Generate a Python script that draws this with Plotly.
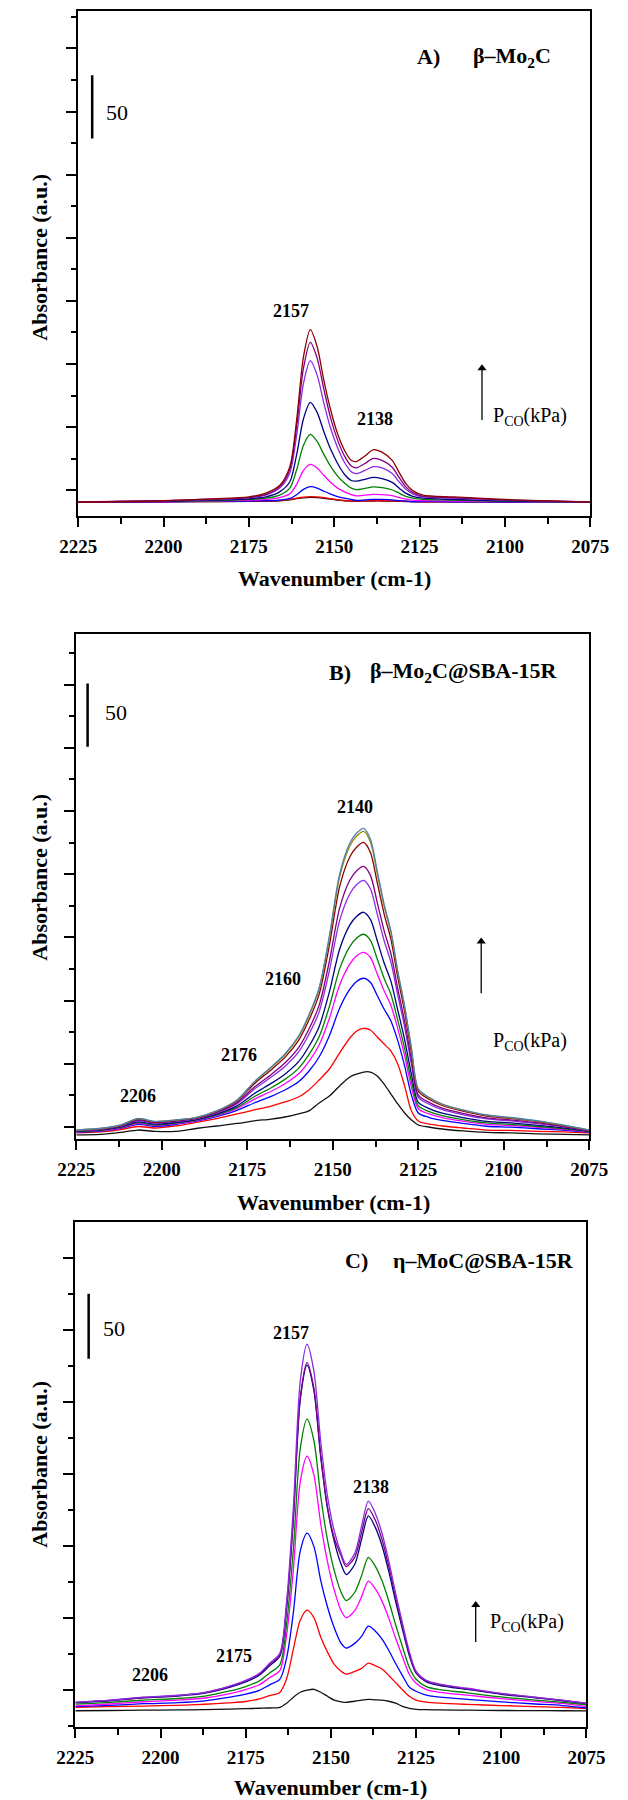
import plotly.graph_objects as go

# ---------------- Panel A : beta-Mo2C ----------------
wn_A = [2225, 2200, 2185, 2175, 2170, 2166, 2163, 2161, 2159, 2157, 2155, 2153, 2151, 2149,
        2147, 2145, 2143.5, 2141, 2138.5, 2136, 2133, 2131, 2129, 2127, 2124, 2115, 2100, 2075]
A_black = [0, 0.2, 0.3, 0.5, 0.7, 1, 1.7, 2.6, 3.3, 3.6, 3.4, 2.9, 2.2, 1.5, 1, 0.7, 0.6, 0.7, 0.8, 0.8, 0.7, 0.5, 0.4, 0.2, 0.1, 0.1, 0, 0]
A_red = [0, 0.2, 0.4, 0.6, 0.8, 1.2, 2, 3, 3.8, 4.2, 4, 3.4, 2.6, 1.8, 1.2, 0.9, 0.8, 0.9, 1, 1, 0.9, 0.7, 0.5, 0.3, 0.2, 0.1, 0, 0]
A_blue = [0, 0.2, 0.5, 0.8, 1, 1.5, 2.8, 5.8, 10, 12.1, 11, 8.5, 6.2, 4.3, 3, 2, 1.3, 1.6, 2.1, 2, 1.6, 1.1, 0.7, 0.4, 0.3, 0.2, 0, 0]
A_magenta = [0, 0.3, 0.8, 1.5, 2, 3.5, 6.5, 14, 25, 29.8, 27, 21, 15.5, 11, 8, 5.8, 4.8, 5.4, 6.1, 5.8, 5, 3.5, 2.2, 1.5, 1, 0.8, 0.3, 0]
A_green = [0, 0.5, 1, 2, 3, 5.5, 11, 25.5, 45, 53.5, 48, 37.5, 28, 20.5, 15, 11, 9.8, 10.8, 11.9, 11.3, 9.5, 7, 4.5, 3, 2, 1.5, 0.5, 0]
A_navy = [0, 0.5, 1.5, 2.5, 4, 8, 16, 37.5, 66, 79, 71, 55.5, 41.5, 30.5, 22, 17, 16.5, 18, 19.5, 18.5, 15.5, 11, 7, 4.5, 3, 2, 1, 0]
A_violet = [0, 1, 2, 3.5, 5.5, 11, 23, 53, 94, 112, 100.5, 78, 58, 43, 31.5, 24, 22.5, 25, 28, 27, 22.5, 16, 10, 6.5, 4, 3, 1.5, 0]
A_purple = [0, 1, 2.5, 3.5, 6, 12, 26, 60, 106, 126.5, 114, 89, 66, 49, 36.5, 28.5, 27, 30.5, 34.5, 33, 27.5, 19.5, 12, 7.5, 4.5, 3.5, 1.5, 0]
A_brown = [0, 1, 2.5, 4, 7, 13, 28, 65, 115, 136.5, 123, 96, 72.5, 54, 41, 33, 32, 36.5, 41.5, 39.5, 33, 23.5, 14.5, 9, 5.5, 4, 2, 0]

# ---------------- Panel B : beta-Mo2C@SBA-15R ----------------
wn_B = [2225, 2218, 2212, 2207, 2202, 2196, 2190, 2184, 2178, 2173, 2168, 2164, 2160, 2157, 2154, 2151, 2148, 2145,
        2143, 2141, 2139, 2137, 2135, 2133, 2131, 2129, 2127, 2125, 2122, 2118, 2112, 2105, 2098, 2090, 2082, 2075]
B_black = [0.8, 1.2, 2.8, 4.7, 3.6, 3.6, 5.9, 7.9, 9.9, 11.9, 13.4, 15, 17.4, 19.8, 26.1, 31.6, 39.6, 46.7, 49, 50.6, 50.6, 47.5, 41.1, 33.2, 25.3, 18.2, 12.7, 8.7, 7.1, 5.5, 4, 2.8, 2.4, 1.6, 1.2, 0.8]
B_red = [2.4, 3.2, 5.1, 7.5, 6.3, 7.9, 10.7, 13.8, 17.4, 20.6, 23.7, 26.9, 30.8, 36.4, 44.3, 53, 65.7, 77.5, 83.1, 85.2, 83.8, 78.3, 72.8, 67.2, 57, 39.6, 19.8, 11.9, 9.5, 7.9, 6.3, 4.7, 4.4, 3.6, 3.2, 2.4]
B_blue = [3.0, 3.9, 6.0, 9.1, 7.6, 9.1, 11.7, 15.3, 20.2, 26.1, 31.4, 36.4, 42.9, 51.2, 62.5, 79.3, 101.1, 116.1, 122.3, 124.8, 121.6, 111.1, 100.5, 91.0, 75.4, 55.4, 32.3, 18.2, 14.8, 12.3, 9.9, 7.7, 7.0, 5.7, 4.5, 3.0]
B_magenta = [3.3, 4.2, 6.5, 9.9, 8.3, 9.7, 12.2, 16.1, 21.6, 29.0, 35.4, 41.3, 49.2, 58.9, 72.0, 93.0, 119.5, 136.1, 142.6, 145.3, 141.2, 128.2, 114.9, 103.3, 84.9, 63.6, 38.7, 21.5, 17.6, 14.5, 11.7, 9.2, 8.3, 6.8, 5.1, 3.3]
B_green = [3.5, 4.5, 6.8, 10.5, 8.7, 10.2, 12.5, 16.6, 22.6, 31.0, 38.2, 44.8, 53.5, 64.3, 78.5, 102.4, 132.2, 150.0, 156.7, 159.6, 154.8, 140.0, 124.8, 111.9, 91.5, 69.3, 43.2, 23.8, 19.5, 16.1, 13.0, 10.3, 9.2, 7.5, 5.6, 3.5]
B_navy = [3.7, 4.8, 7.2, 11.2, 9.3, 10.7, 13.0, 17.3, 23.8, 33.4, 41.6, 48.9, 58.8, 70.8, 86.5, 114.0, 147.8, 167.0, 173.9, 177.0, 171.4, 154.5, 137.0, 122.3, 99.6, 76.3, 48.7, 26.6, 21.9, 18.0, 14.6, 11.6, 10.3, 8.4, 6.2, 3.7]
B_violet = [4.1, 5.2, 7.8, 12.2, 10.1, 11.5, 13.6, 18.2, 25.6, 37.0, 46.6, 55.0, 66.5, 80.3, 98.2, 130.8, 170.4, 191.7, 199.0, 202.3, 195.6, 175.5, 154.7, 137.5, 111.4, 86.4, 56.7, 30.6, 25.3, 20.8, 16.9, 13.5, 11.9, 9.7, 7.0, 4.1]
B_purple = [4.3, 5.4, 8.0, 12.6, 10.5, 11.8, 13.9, 18.7, 26.4, 38.5, 48.7, 57.7, 69.9, 84.4, 103.3, 138.2, 180.3, 202.5, 209.9, 213.3, 206.2, 184.7, 162.5, 144.2, 116.5, 90.8, 60.1, 32.4, 26.8, 22.0, 17.9, 14.3, 12.7, 10.3, 7.3, 4.3]
B_brown = [4.5, 5.7, 8.4, 13.4, 11.1, 12.4, 14.3, 19.4, 27.7, 41.2, 52.4, 62.2, 75.7, 91.5, 112.0, 150.8, 197.3, 221.0, 228.7, 232.3, 224.3, 200.4, 175.8, 155.6, 125.4, 98.4, 66.1, 35.4, 29.3, 24.1, 19.6, 15.8, 13.9, 11.3, 7.9, 4.5]
B_olive = [4.7, 5.9, 8.6, 13.7, 11.4, 12.6, 14.5, 19.7, 28.3, 42.4, 54.1, 64.3, 78.4, 94.8, 116.0, 156.6, 205.1, 229.5, 237.3, 241.0, 232.6, 207.6, 181.8, 160.8, 129.4, 101.9, 68.9, 36.8, 30.5, 25.0, 20.4, 16.4, 14.4, 11.8, 8.2, 4.7]
B_steel = [4.7, 5.9, 8.7, 13.8, 11.5, 12.7, 14.6, 19.8, 28.5, 42.7, 54.6, 64.9, 79.1, 95.7, 117.1, 158.2, 207.2, 231.8, 239.7, 243.4, 234.9, 209.6, 183.5, 162.2, 130.5, 102.8, 69.6, 37.2, 30.8, 25.3, 20.6, 16.6, 14.6, 11.9, 8.3, 4.7]

# ---------------- Panel C : eta-MoC@SBA-15R ----------------
wn_C = [2225, 2215, 2205, 2195, 2187, 2180, 2175, 2171, 2168, 2165, 2163, 2161, 2159, 2157, 2155, 2153, 2151, 2149, 2147,
        2145.5, 2143, 2141, 2139, 2137, 2135, 2133, 2131, 2129, 2127, 2125, 2122, 2118, 2110, 2100, 2090, 2082, 2075]
C_black = [0.4, 0.6, 0.8, 1, 1.3, 1.6, 2, 2.3, 2.5, 3, 6.2, 10.8, 14.6, 16.2, 16.9, 14.6, 11.5, 8.5, 7.3, 6.9, 7.7, 8.5, 9.2, 8.8, 8.5, 7.7, 6.2, 3.8, 2.3, 1.5, 1.2, 1, 0.8, 0.6, 0.5, 0.4, 0.3]
C_red = [3.1, 3.5, 4, 4.6, 5.4, 6.5, 7.5, 9.5, 12, 14.5, 25, 48, 70, 77.7, 72, 57.1, 45.5, 36, 30.7, 28.5, 30.7, 33, 37, 35, 32.5, 27.5, 22, 16.5, 11.5, 8.5, 7, 6.2, 5.3, 4.4, 3.6, 3, 2]
C_blue = [3.5, 4.5, 5.8, 6.6, 8, 10.6, 13.1, 16.1, 20.3, 24.5, 41, 76.4, 123.1, 136.9, 126.8, 100.7, 80.2, 64, 52.2, 48.6, 52.2, 57.6, 65.4, 61.7, 55.4, 46.7, 36.7, 27.4, 18.7, 15.4, 12.4, 10.8, 9.2, 7.2, 5.6, 4.4, 2.5]
C_magenta = [4.1, 5.6, 7.3, 8.5, 10.2, 13.4, 16.7, 20.4, 25.8, 31.2, 58.8, 109.5, 176.4, 196.1, 181.7, 144.3, 114.9, 93, 77.4, 72, 77.4, 88.1, 100, 94.3, 84.7, 71.4, 56.1, 41.9, 28.5, 21.6, 16.7, 14.6, 12.4, 9.7, 7.6, 6, 3.5]
C_green = [5.5, 6.8, 8.6, 9.8, 11.7, 15.4, 19, 23.4, 29.5, 35.7, 67.3, 125.4, 202, 224.6, 208.2, 165.3, 131.6, 108, 91.5, 85.1, 91.5, 104.3, 118.4, 111.6, 100.3, 84.6, 66.5, 49.6, 33.8, 24.6, 19, 16.6, 14.2, 11, 8.6, 6.8, 5]
C_navy = [6.6, 8.1, 10.3, 11.7, 13.9, 18.2, 22.6, 27.7, 35, 42.4, 79.8, 148.6, 239.3, 266.1, 246.6, 195.8, 155.9, 130.5, 113, 105.1, 113, 132.3, 150.2, 141.6, 127.3, 107.3, 84.4, 63, 42.9, 29.3, 22.6, 19.8, 16.8, 13.1, 10.3, 8.1, 5.9]
C_purple = [6.9, 8.4, 10.6, 12.1, 14.3, 18.8, 23.3, 28.6, 36, 43.2, 80.4, 149.7, 241.1, 268.1, 248.4, 197.2, 157, 133, 119.5, 111.3, 118.5, 137.5, 155.8, 147, 132.1, 111.4, 87.5, 65.3, 44.5, 29.8, 23.3, 20.4, 17.3, 13.5, 10.6, 8.3, 6.1]
C_violet = [6.9, 8.5, 10.8, 12.3, 14.6, 19.2, 23.8, 29.2, 36.9, 44.6, 84.6, 157.6, 253.8, 282.2, 261.5, 207.6, 165.3, 138.4, 121.5, 113, 121.5, 142.3, 161.5, 152.3, 136.9, 115.4, 90.7, 67.7, 46.1, 30.8, 23.8, 20.8, 17.7, 13.8, 10.8, 8.5, 6.2]

# tick labels of the wavenumber axis
x_ticks = [2225, 2200, 2175, 2150, 2125, 2100, 2075]
scale_bar_value = 50

SERIF = "Liberation Serif, serif"
COL = {"black": "#111111", "red": "#FF0000", "blue": "#0000FF", "magenta": "#FF00FF",
       "green": "#008000", "navy": "#000080", "violet": "#8A2BE2", "purple": "#800080",
       "brown": "#8B0000", "olive": "#9A8A00", "steel": "#4F7FAF"}

fig = go.Figure()

panels = [
    ("x", "y", wn_A, [("black", A_black), ("red", A_red), ("blue", A_blue), ("magenta", A_magenta),
                      ("green", A_green), ("navy", A_navy), ("violet", A_violet), ("purple", A_purple),
                      ("brown", A_brown)]),
    ("x2", "y2", wn_B, [("black", B_black), ("red", B_red), ("blue", B_blue), ("magenta", B_magenta),
                        ("green", B_green), ("navy", B_navy), ("violet", B_violet), ("purple", B_purple),
                        ("brown", B_brown), ("olive", B_olive), ("steel", B_steel)]),
    ("x3", "y3", wn_C, [("black", C_black), ("red", C_red), ("blue", C_blue), ("magenta", C_magenta),
                        ("green", C_green), ("navy", C_navy), ("purple", C_purple), ("violet", C_violet)]),
]
for xa, ya, wn, series in panels:
    for cname, vals in series:
        fig.add_trace(go.Scatter(x=wn, y=vals, mode="lines", xaxis=xa, yaxis=ya,
                                 line=dict(color=COL[cname], width=1.3, shape="spline", smoothing=0.8),
                                 showlegend=False, hoverinfo="skip"))

# pressure arrows (increasing P_CO): drawn as a line with a triangular head
arrows = [("x", "y", 2106.7, 65.0, 106.0),
          ("x2", "y2", 2106.6, 112.9, 153.8),
          ("x3", "y3", 2107.5, 53.3, 81.8)]
for xr, yr, xa, tail, head in arrows:
    fig.add_trace(go.Scatter(x=[xa, xa], y=[tail, head], mode="lines", xaxis=xr, yaxis=yr,
                             line=dict(color="black", width=1.3), showlegend=False, hoverinfo="skip"))
    fig.add_trace(go.Scatter(x=[xa], y=[head], mode="markers", xaxis=xr, yaxis=yr,
                             marker=dict(symbol="triangle-up", size=8, color="black"),
                             showlegend=False, hoverinfo="skip"))

W, H = 628, 1800
def fx(px):
    return px / W
def fy(py):
    return 1 - py / H

# box geometry (pixels): left, right, top, bottom
boxes = {
    "A": (63, 608, 11, 516),
    "B": (61, 607, 634, 1139),
    "C": (60, 604, 1222, 1727),
}
yinfo = {
    "A": dict(range=[-11.1, 389.0], tick0=9.3, dt=25),
    "B": dict(range=[-2.4, 397.2], tick0=7.1, dt=25),
    "C": dict(range=[-12.1, 376.2], tick0=16.2, dt=27.7),
}

layout = dict(width=W, height=H, margin=dict(l=0, r=0, t=0, b=0), autosize=False,
              paper_bgcolor="white", plot_bgcolor="white", showlegend=False)

for i, key in enumerate(["A", "B", "C"]):
    l, r, t, b = boxes[key]
    sfx = "" if i == 0 else str(i + 1)
    layout["xaxis" + sfx] = dict(
        domain=[fx(l), fx(r)], anchor="y" + sfx, range=[2225, 2075], autorange=False,
        showline=True, linecolor="black", linewidth=2, mirror=True,
        ticks="outside", ticklen=9, tickwidth=1.6, tickcolor="black",
        tickmode="array", tickvals=x_ticks, ticktext=[str(v) for v in x_ticks],
        minor=dict(ticks="outside", ticklen=6, tickwidth=1.6, tickcolor="black", tick0=2225, dtick=12.5),
        tickfont=dict(family=SERIF, size=19, color="black", weight="bold"),
        ticklabelstandoff=3,
        showgrid=False, zeroline=False, fixedrange=True)
    yi = yinfo[key]
    layout["yaxis" + sfx] = dict(
        domain=[fy(b), fy(t)], anchor="x" + sfx, range=yi["range"], autorange=False,
        showline=True, linecolor="black", linewidth=2, mirror=True,
        ticks="outside", ticklen=10, tickwidth=1.6, tickcolor="black",
        tick0=yi["tick0"], dtick=2 * yi["dt"],
        minor=dict(ticks="outside", ticklen=5, tickwidth=1.6, tickcolor="black",
                   tick0=yi["tick0"], dtick=yi["dt"]),
        showticklabels=False, showgrid=False, zeroline=False, fixedrange=True)

fig.update_layout(**layout)

ann = []
def txt(text, x, y, xr, yr, size, bold=True, xanchor="center", yanchor="middle", angle=0):
    ann.append(dict(text=text, x=x, y=y, xref=xr, yref=yr, showarrow=False,
                    xanchor=xanchor, yanchor=yanchor, textangle=angle,
                    font=dict(family=SERIF, size=size, color="black",
                              weight="bold" if bold else "normal")))

# axis titles
for key, (xc, yc_w, yc_a) in {"A": (336, 578, 257), "B": (335, 1202, 877), "C": (332, 1787, 1464)}.items():
    txt("Wavenumber (cm-1)", fx(xc), fy(yc_w), "paper", "paper", 22)
    txt("Absorbance (a.u.)", fx(21), fy(yc_a), "paper", "paper", 22, angle=-90)

# panel A texts
txt("A)", 2122.5, 352.9, "x", "y", 22)
txt("β–Mo<sub>2</sub>C", 2097.8, 352.9, "x", "y", 22)
txt("2157", 2162.7, 151.6, "x", "y", 18)
txt("2138", 2138.0, 65.5, "x", "y", 18)
txt("P<sub>CO</sub>(kPa)", 2104.2, 67.4, "x", "y", 20, bold=False, xanchor="left")
txt(str(scale_bar_value), 2213.7, 308.5, "x", "y", 22, bold=False)

# panel B texts
txt("B)", 2147.8, 367.1, "x2", "y2", 22)
txt("β–Mo<sub>2</sub>C@SBA-15R", 2111.7, 367.1, "x2", "y2", 22)
txt("2140", 2143.4, 260.5, "x2", "y2", 18)
txt("2160", 2164.6, 124.0, "x2", "y2", 18)
txt("2176", 2177.5, 64.0, "x2", "y2", 18)
txt("2206", 2207.0, 31.6, "x2", "y2", 18)
txt("P<sub>CO</sub>(kPa)", 2103.8, 74.4, "x2", "y2", 20, bold=False, xanchor="left")
txt(str(scale_bar_value), 2213.5, 335.4, "x2", "y2", 22, bold=False)

# panel C texts
txt("C)", 2142.6, 346.9, "x3", "y3", 22)
txt("η–MoC@SBA-15R", 2105.1, 346.9, "x3", "y3", 22)
txt("2157", 2161.6, 290.5, "x3", "y3", 18)
txt("2138", 2138.2, 172.5, "x3", "y3", 18)
txt("2175", 2178.3, 42.3, "x3", "y3", 18)
txt("2206", 2203.2, 27.7, "x3", "y3", 18)
txt("P<sub>CO</sub>(kPa)", 2104.0, 68.5, "x3", "y3", 20, bold=False, xanchor="left")
txt(str(scale_bar_value), 2213.7, 294.4, "x3", "y3", 22, bold=False)

fig.update_layout(annotations=ann)

# scale bars (50 a.u.)
shapes = []
for xr, yr, xb, y0 in [("x", "y", 2220.9, 288.0), ("x2", "y2", 2221.7, 308.0), ("x3", "y3", 2221.1, 271.0)]:
    shapes.append(dict(type="line", xref=xr, yref=yr, x0=xb, x1=xb, y0=y0, y1=y0 + scale_bar_value,
                       line=dict(color="black", width=2.5)))
fig.update_layout(shapes=shapes)

fig.write_html("out.html")
